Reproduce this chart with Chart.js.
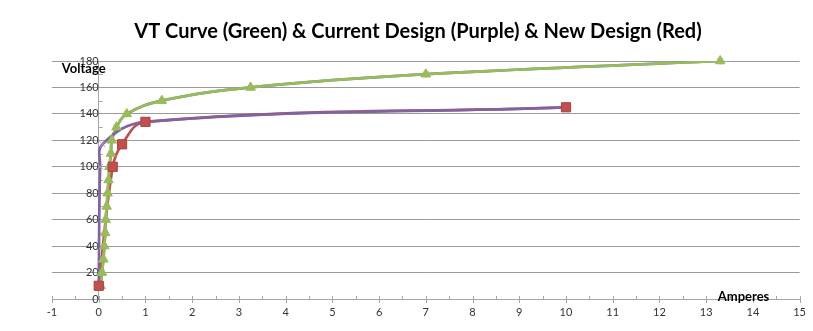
<!DOCTYPE html>
<html>
<head>
<meta charset="utf-8">
<script src="https://cdn.jsdelivr.net/npm/chart.js@4"></script>
<style>
  html, body { margin: 0; padding: 0; background: #fff; }
</style>
</head>
<body>
<canvas id="vtChart" width="813" height="331"></canvas>
<script>
// VT curve (green, with a blue copy underneath)
const vtAmps  = [0.04, 0.07, 0.1, 0.12, 0.14, 0.15, 0.17, 0.19, 0.21, 0.23, 0.26, 0.28, 0.38, 0.6, 1.35, 3.25, 7.0, 13.3];
const vtVolts = [10, 20, 30, 40, 50, 60, 70, 80, 90, 100, 110, 120, 130, 140, 150, 160, 170, 180];

// Current design (purple)
const currentAmps  = [0, 0.03, 0.08, 1.0, 10.0];
const currentVolts = [10, 100, 117, 134, 145];

// New design (red)
const newAmps  = [0, 0.3, 0.5, 1.0, 10.0];
const newVolts = [10, 100, 117, 134, 145];

const chartTitle = 'VT Curve (Green) & Current Design (Purple) & New Design (Red)';
const xTitle = 'Amperes';
const yTitle = 'Voltage';

const GREEN = '#9BBB59';
const PURPLE = '#8064A2';
const RED = '#C0504D';
const BLUE = '#4F81BD';
const FONT = 'Lato, "Open Sans", sans-serif';

function toPoints(xs, ys) {
    return xs.map(function (x, i) { return { x: x, y: ys[i] }; });
}

// line only datasets (drawn first, under every marker)
function lineSet(label, xs, ys, color, order) {
    return {
        label: label,
        data: toPoints(xs, ys),
        showLine: true,
        borderColor: color,
        borderWidth: 2.7,
        tension: 0.4,
        pointRadius: 0,
        order: order
    };
}

// marker only datasets
function markerSet(label, xs, ys, style, radius, fill, border, order) {
    return {
        label: label,
        data: toPoints(xs, ys),
        showLine: false,
        clip: false,
        pointStyle: style,
        pointRadius: radius,
        backgroundColor: fill,
        borderColor: border,
        borderWidth: 1,
        order: order
    };
}

// title, minor / major tick marks and the two axis captions, Excel style
const axisExtras = {
    id: 'axisExtras',
    beforeDatasetsDraw: function (chart) {
        const ctx = chart.ctx;
        const xs = chart.scales.x;
        const ys = chart.scales.y;
        const y0 = ys.getPixelForValue(0);
        const x0 = xs.getPixelForValue(0);
        ctx.save();
        ctx.strokeStyle = '#a6a6a6';
        ctx.lineWidth = 1;
        ctx.beginPath();
        for (let v = xs.min; v <= xs.max + 0.001; v += 0.5) {
            const px = Math.round(xs.getPixelForValue(v)) + 0.5;
            const major = Math.abs(v - Math.round(v)) < 0.01;
            ctx.moveTo(px, y0 - 3);
            ctx.lineTo(px, major ? y0 + 4 : y0);
        }
        for (let v = 10; v < ys.max; v += 20) {
            const py = Math.round(ys.getPixelForValue(v)) + 0.5;
            ctx.moveTo(x0, py);
            ctx.lineTo(x0 + 4, py);
        }
        ctx.stroke();
        ctx.restore();
    },
    afterDraw: function (chart) {
        const ctx = chart.ctx;
        const xs = chart.scales.x;
        const ys = chart.scales.y;
        ctx.save();
        ctx.fillStyle = '#000';
        ctx.textAlign = 'center';
        ctx.textBaseline = 'alphabetic';
        ctx.font = 'bold 20px ' + FONT;
        ctx.fillText(chartTitle, 418, 38);
        ctx.font = 'bold 13px ' + FONT;
        ctx.textBaseline = 'middle';
        ctx.fillText(xTitle, xs.getPixelForValue(13.8), ys.getPixelForValue(1.5));
        ctx.textAlign = 'left';
        ctx.fillText(yTitle, xs.getPixelForValue(-0.79), ys.getPixelForValue(174));
        ctx.restore();
    }
};

new Chart(document.getElementById('vtChart'), {
    type: 'scatter',
    data: {
        datasets: [
            markerSet('VT Curve', vtAmps, vtVolts, 'triangle', 5.5, GREEN, GREEN, 1),
            markerSet('New Design', newAmps, newVolts, 'rect', 6.5, RED, '#a9403d', 0),
            markerSet('VT Curve (blue)', vtAmps, vtVolts, 'star', 3.5, BLUE, BLUE, 3),
            markerSet('Current Design', currentAmps, currentVolts, 'crossRot', 4, '#b3a2c7', '#b3a2c7', 4),
            lineSet('Current Design', currentAmps, currentVolts, PURPLE, 10),
            lineSet('VT Curve', vtAmps, vtVolts, GREEN, 11),
            lineSet('New Design', newAmps, newVolts, RED, 12),
            lineSet('VT Curve (blue)', vtAmps, vtVolts, BLUE, 13)
        ]
    },
    options: {
        responsive: false,
        animation: false,
        layout: { padding: { left: 52, right: 10, top: 61, bottom: 0 } },
        plugins: {
            legend: { display: false },
            tooltip: { enabled: false },
            title: { display: false }
        },
        scales: {
            x: {
                type: 'linear',
                position: 'bottom',
                min: -1,
                max: 15,
                afterFit: function (scale) { scale.height = 32; },
                ticks: { stepSize: 1, color: '#333', padding: 7, font: { family: FONT, size: 11 } },
                grid: { drawOnChartArea: false, drawTicks: false },
                border: { display: true, color: '#a6a6a6' }
            },
            y: {
                type: 'linear',
                position: { x: 0 },
                min: 0,
                max: 180,
                ticks: { stepSize: 20, color: '#333', padding: 9, font: { family: FONT, size: 11 } },
                grid: { color: '#9a9a9a', drawTicks: false },
                border: { display: true, color: '#a6a6a6' }
            }
        }
    },
    plugins: [axisExtras]
});
</script>
</body>
</html>
